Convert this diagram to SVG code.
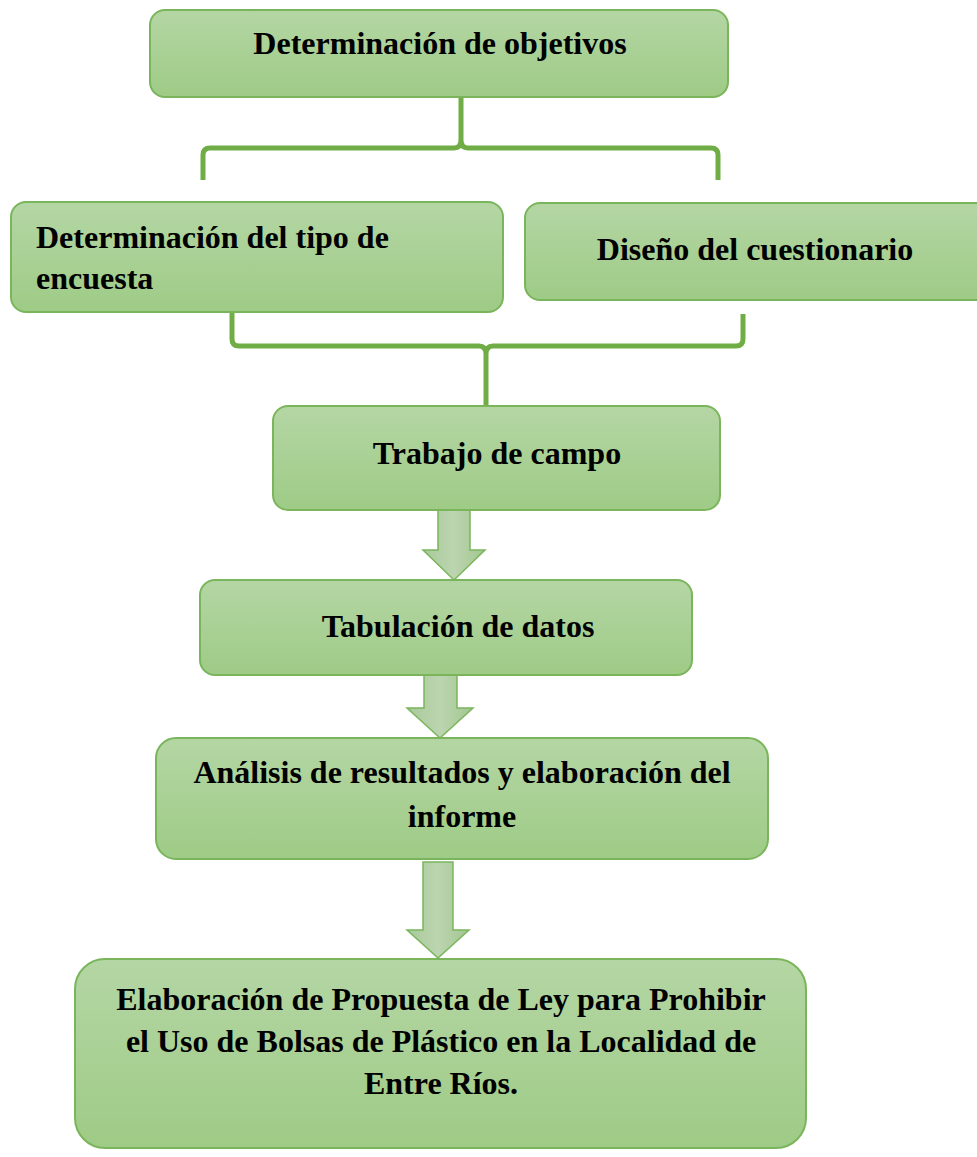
<svg xmlns="http://www.w3.org/2000/svg" width="977" height="1157" viewBox="0 0 977 1157">
<defs>
<linearGradient id="g" x1="0" y1="0" x2="0" y2="1">
<stop offset="0" stop-color="#b4d6a4"/>
<stop offset="1" stop-color="#9ecb86"/>
</linearGradient>
<linearGradient id="ga" x1="0" y1="0" x2="1" y2="0">
<stop offset="0" stop-color="#a8c99a"/>
<stop offset="0.5" stop-color="#bcd5b0"/>
<stop offset="1" stop-color="#a2c68f"/>
</linearGradient>
<style>
.box{fill:url(#g);stroke:#7ab55c;stroke-width:2}
.arr{fill:url(#ga);stroke:#7ab55c;stroke-width:1.5}
.br{fill:none;stroke:#70ad47;stroke-width:5;stroke-linejoin:round}
text{font-family:"Liberation Serif","Times New Roman",serif;font-weight:bold;font-size:32px;fill:#000}
.c{text-anchor:middle}
</style>
</defs>
<rect width="977" height="1157" fill="#fff"/>
<g id="connectors">
<path class="br" d="M203,180 L203,155 Q203,148 210,148 L454,148 Q461,148 461,140 L461,88 M461,140 Q461,148 468,148 L711,148 Q718,148 718,155 L718,180"/>
<path class="br" d="M232,313 L232,339 Q232,346 239,346 L479,346 Q486,346 486,354 L486,405 M486,354 Q486,346 493,346 L736,346 Q743,346 743,339 L743,314"/>
<path class="arr" d="M438,510 L470,510 L470,550 L485,550 L454,580 L423,550 L438,550 Z"/>
<path class="arr" d="M424,675 L457,675 L457,708 L473,708 L440,738 L407,708 L424,708 Z"/>
<path class="arr" d="M423,862 L453,862 L453,930 L469,930 L438,958 L407,930 L423,930 Z"/>
</g>
<g id="n1"><rect class="box" x="150" y="10" width="578" height="87" rx="15"/><text class="c" x="440" y="54">Determinación de objetivos</text></g>
<g id="n2"><rect class="box" x="11" y="202" width="492" height="110" rx="15"/><text x="36" y="248">Determinación del tipo de</text><text x="36" y="289">encuesta</text></g>
<g id="n3"><rect class="box" x="525" y="203" width="470" height="97" rx="15"/><text class="c" x="755" y="260">Diseño del cuestionario</text></g>
<g id="n4"><rect class="box" x="273" y="406" width="447" height="104" rx="15"/><text class="c" x="497" y="464">Trabajo de campo</text></g>
<g id="n5"><rect class="box" x="200" y="580" width="492" height="95" rx="15"/><text class="c" x="458" y="637">Tabulación de datos</text></g>
<g id="n6"><rect class="box" x="156" y="738" width="612" height="121" rx="20"/><text class="c" x="462" y="783">Análisis de resultados y elaboración del</text><text class="c" x="462" y="827">informe</text></g>
<g id="n7"><rect class="box" x="75" y="959" width="731" height="189" rx="30"/><text class="c" x="441" y="1010">Elaboración de Propuesta de Ley para Prohibir</text><text class="c" x="441" y="1052">el Uso de Bolsas de Plástico en la Localidad de</text><text class="c" x="441" y="1094">Entre Ríos.</text></g>
</svg>
